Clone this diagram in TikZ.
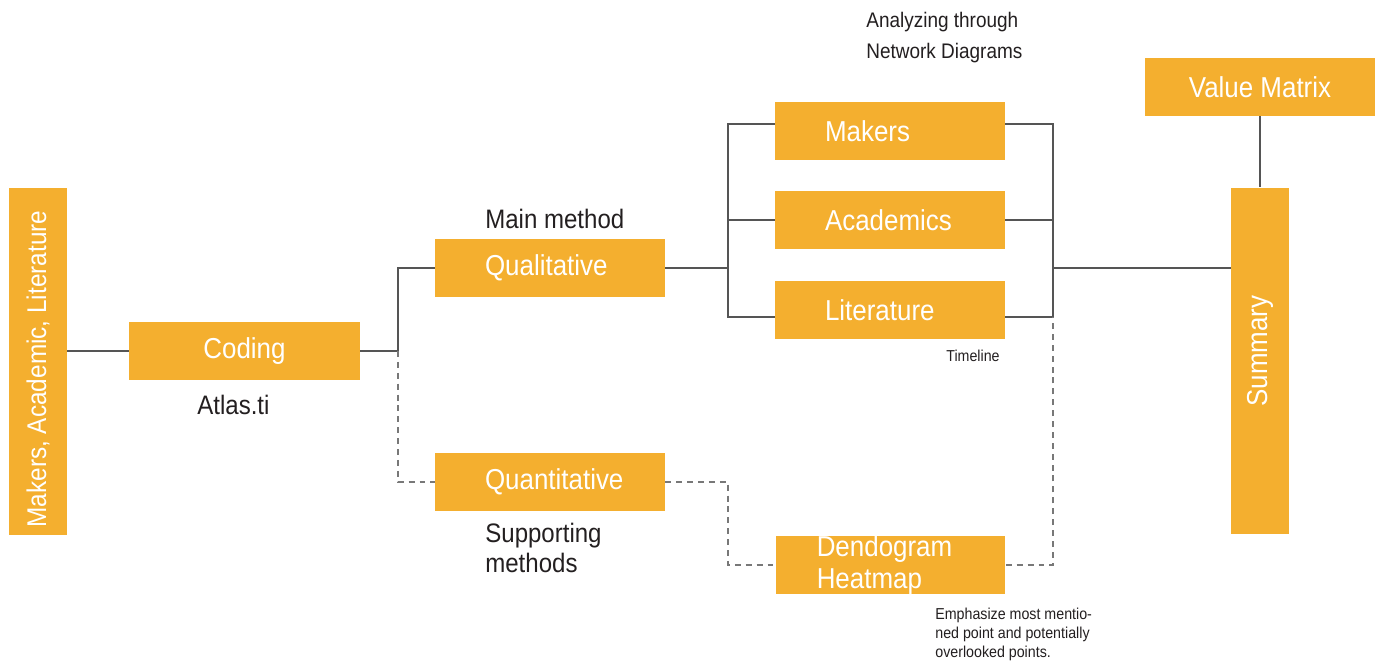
\documentclass[tikz,border=0pt]{standalone}
\usepackage[RGB]{xcolor}
\usepackage{fontspec}
\setmainfont[FakeStretch=0.9]{Liberation Sans}
\usepackage{graphicx}
\usepackage{tikz}
\usetikzlibrary{calc}
\definecolor{B}{RGB}{244,175,47}
\definecolor{T}{RGB}{35,31,32}
\definecolor{C}{RGB}{85,85,85}
\definecolor{D}{RGB}{120,120,120}
\newcommand{\boxfont}{\fontsize{16.4}{18.2}\selectfont}
\newcommand{\notefont}[2]{\fontsize{#1}{#2}\selectfont}
\newcommand{\drawline}{\draw[line width=0.7pt, C]}
\newcommand{\drawdashed}{\draw[line width=0.7pt, D, dash pattern=on 3.4pt off 2.8pt]}
\tikzset{
  box/.style={fill=B, text=white, font=\boxfont, minimum width=4.6cm, minimum height=1.16cm, inner sep=0pt},
  lbox/.style={box, text width=2.6cm, align=left},
  vbox/.style={box, minimum width=1.16cm, minimum height=6.93cm},
  note/.style={text=T, anchor=west, inner sep=0pt, align=left}
}

\begin{document}
\begin{tikzpicture}[x=0.02cm, y=-0.02cm]
\useasboundingbox (0,0) rectangle (1379,664);
\node[vbox] (src) at (38,361.5) {\rotatebox{90}{\fontsize{15.4}{18}\selectfont Makers, Academic, Literature\hspace{0.3cm}}};
\node[box, minimum width=4.62cm] (coding) at (244.5,351) {Coding};
\node[lbox] (qual) at (550,268) {Qualitative};
\node[lbox] (quant) at (550,482) {Quantitative};
\node[lbox] (makers) at (890,131) {Makers};
\node[lbox] (acad) at (890,220) {Academics};
\node[lbox] (lit) at (890,310) {Literature};
\node[lbox, text width=2.95cm] (dendo) at (890.5,565) {Dendogram\\Heatmap};
\node[vbox] (summ) at (1260,361) {\rotatebox{90}{\hspace{0.4cm}Summary}};
\node[box, minimum width=4.62cm] (value) at (1260,87) {Value Matrix};
\node[note, font=\notefont{15.2}{17}] (atlas) at (197,405) {Atlas.ti};
\node[note, font=\notefont{15.2}{17}] (mainm) at (485,219) {Main method};
\node[note, font=\notefont{15.2}{17}] (suppm) at (485,548) {Supporting\\methods};
\node[note, font=\notefont{12}{17.6}] (netw) at (866,38) {Analyzing through\\Network Diagrams};
\node[note, font=\notefont{9}{10}] (timel) at (946,356) {Timeline};
\node[note, font=\notefont{9}{10.8}] (emph) at (935,634) {Emphasize most mentio-\\ned point and potentially\\overlooked points.};
\coordinate (split) at (398,351);
\coordinate (fanl) at (728,268);
\coordinate (fanr) at (1053,268);
\drawline (src.east |- coding.west) -- (coding.west);
\drawline (coding.east) -- (split) |- (qual.west);
\drawdashed (split) |- (quant.west);
\drawline (qual.east) -- (fanl);
\drawline ([yshift=0.14cm]makers.west) -| (fanl) |- ([yshift=-0.14cm]lit.west);
\drawline (acad.west) -- (acad.west -| fanl);
\drawline ([yshift=0.14cm]makers.east) -| (fanr) |- ([yshift=-0.14cm]lit.east);
\drawline (acad.east) -- (acad.east -| fanr);
\drawline (fanr) -- (fanr -| summ.west);
\drawline (value.south) -- (summ.north);
\drawdashed (quant.east) -| (fanl |- dendo.west) -- (dendo.west);
\drawdashed (dendo.east) -| ([yshift=-0.14cm]lit.east -| fanr);
\end{tikzpicture}
\end{document}
